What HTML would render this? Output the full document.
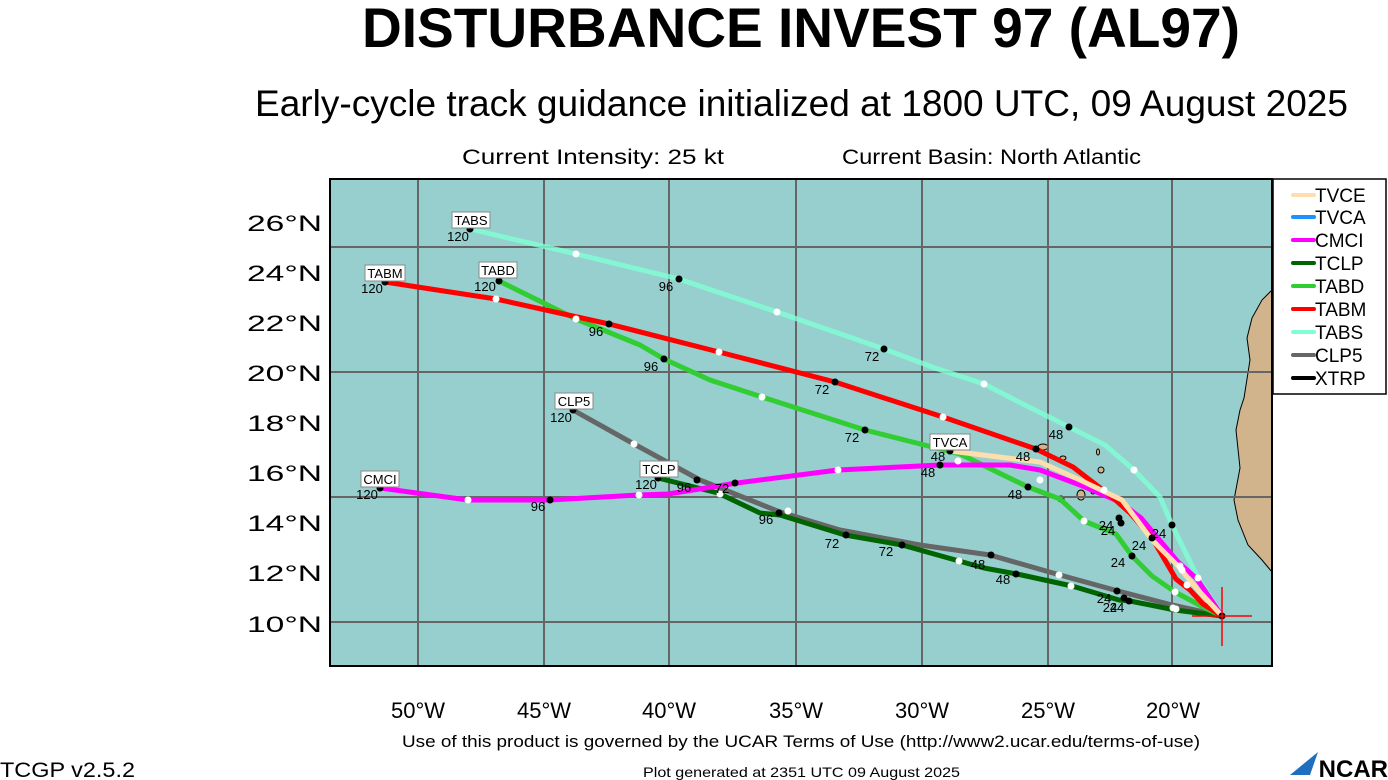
<!DOCTYPE html>
<html><head><meta charset="utf-8"><style>
html,body{margin:0;padding:0;background:#fff;width:1388px;height:780px;overflow:hidden}
svg text{font-family:"Liberation Sans",sans-serif}
</style></head><body>
<svg width="1388" height="780" viewBox="0 0 1388 780" xmlns="http://www.w3.org/2000/svg">
<text x="362" y="47" font-size="56" font-weight="bold" textLength="878" lengthAdjust="spacingAndGlyphs">DISTURBANCE INVEST 97 (AL97)</text>
<text x="255" y="116" font-size="37" textLength="1093" lengthAdjust="spacingAndGlyphs">Early-cycle track guidance initialized at 1800 UTC, 09 August 2025</text>
<text x="462" y="164" font-size="21" textLength="262" lengthAdjust="spacingAndGlyphs">Current Intensity: 25 kt</text>
<text x="842" y="164" font-size="21" textLength="299" lengthAdjust="spacingAndGlyphs">Current Basin: North Atlantic</text>
<rect x="330" y="179" width="942" height="487" fill="#97cfce"/>
<path d="M1272,290 L1262,300 1252,318 1247,338 1250,360 1244,398 1240,410 1236,430 1240,468 1234,500 1238,520 1248,545 1262,560 1272,572 Z" fill="#d2b48c" stroke="#000" stroke-width="1"/>
<g fill="#d2b48c" stroke="#000" stroke-width="1">
<ellipse cx="1043" cy="447" rx="5" ry="3"/><ellipse cx="1063" cy="458" rx="3" ry="2"/><ellipse cx="1101" cy="470" rx="3" ry="3"/><ellipse cx="1081" cy="495" rx="4" ry="5"/><ellipse cx="1093" cy="492" rx="2" ry="2"/><ellipse cx="1061" cy="499" rx="3" ry="3"/><ellipse cx="1098" cy="452" rx="1.5" ry="3"/>
</g>
<g stroke="#666" stroke-width="2">
<line x1="418" y1="179" x2="418" y2="666"/><line x1="544" y1="179" x2="544" y2="666"/><line x1="669" y1="179" x2="669" y2="666"/><line x1="796" y1="179" x2="796" y2="666"/><line x1="922" y1="179" x2="922" y2="666"/><line x1="1048" y1="179" x2="1048" y2="666"/><line x1="1172" y1="179" x2="1172" y2="666"/>
<line x1="330" y1="247" x2="1272" y2="247"/><line x1="330" y1="372" x2="1272" y2="372"/><line x1="330" y1="497" x2="1272" y2="497"/><line x1="330" y1="622" x2="1272" y2="622"/>
</g>
<g fill="none" stroke-width="5" stroke-linejoin="round">
<polyline stroke="#666" points="1222,616 1172,605 1118,591 1060,575 990,555 920,545 840,530 780,512 700,480 634,444 573,410"/>
<polyline stroke="#006400" points="1222,616 1175,610 1130,601 1119,600 1072,586 1017,574 984,568 902,545 845,535 780,515 760,513 718,493 658,478"/>
<polyline stroke="#32cd32" points="1222,616 1205,608 1175,592 1152,576 1132,556 1116,534 1084,521 1060,499 1028,487 960,454 865,430 762,397 710,380 664,359 640,345 576,319 499,281"/>
<polyline stroke="#7fffd4" stroke-opacity="0.8" points="1222,616 1198,578 1172,525 1160,497 1134,470 1105,445 1069,427 1025,405 984,384 935,368 884,349 777,312 679,279 576,254 470,229"/>
<polyline stroke="#ff00ff" points="1222,616 1197,579 1178,562 1141,518 1120,502 1080,485 1040,470 1010,465 940,465 838,470 737,483 668,494 639,495 550,500 468,500 380,488"/>
<polyline stroke="#ff0000" points="1222,616 1203,604 1190,590 1176,579 1152,538 1130,513 1112,497 1073,467 1036,449 943,417 835,382 719,352 609,324 496,299 385,282"/>
<polyline stroke="#ffdead" points="1222,616 1198,590 1178,566 1152,540 1122,500 1080,480 1040,462 950,451"/>
</g>
<g fill="#fff">
<circle cx="1198" cy="578" r="3.5"/><circle cx="1134" cy="470" r="3.5"/><circle cx="984" cy="384" r="3.5"/><circle cx="777" cy="312" r="3.5"/><circle cx="576" cy="254" r="3.5"/>
<circle cx="1104" cy="490" r="3.5"/><circle cx="943" cy="417" r="3.5"/><circle cx="719" cy="352" r="3.5"/><circle cx="496" cy="299" r="3.5"/><circle cx="1187" cy="585" r="3.5"/>
<circle cx="1175" cy="592" r="3.5"/><circle cx="1084" cy="521" r="3.5"/><circle cx="958" cy="461" r="3.5"/><circle cx="762" cy="397" r="3.5"/><circle cx="576" cy="319" r="3.5"/>
<circle cx="1180" cy="566" r="3.5"/><circle cx="1040" cy="480" r="3.5"/><circle cx="838" cy="470" r="3.5"/><circle cx="639" cy="495" r="3.5"/><circle cx="468" cy="500" r="3.5"/><circle cx="1182" cy="570" r="3.5"/>
<circle cx="1173" cy="608" r="3.5"/><circle cx="1071" cy="586" r="3.5"/><circle cx="959" cy="561" r="3.5"/><circle cx="720" cy="494" r="3.5"/><circle cx="1176" cy="609" r="3.5"/>
<circle cx="1059" cy="575" r="3.5"/><circle cx="634" cy="444" r="3.5"/><circle cx="788" cy="511" r="3.5"/>
</g>
<g fill="#000">
<circle cx="1222" cy="616" r="3.5"/>
<circle cx="1172" cy="525" r="3.5"/><circle cx="1069" cy="427" r="3.5"/><circle cx="884" cy="349" r="3.5"/><circle cx="679" cy="279" r="3.5"/><circle cx="470" cy="229" r="3.5"/>
<circle cx="1152" cy="538" r="3.5"/><circle cx="1036" cy="449" r="3.5"/><circle cx="835" cy="382" r="3.5"/><circle cx="609" cy="324" r="3.5"/><circle cx="385" cy="282" r="3.5"/>
<circle cx="1132" cy="556" r="3.5"/><circle cx="1028" cy="487" r="3.5"/><circle cx="865" cy="430" r="3.5"/><circle cx="664" cy="359" r="3.5"/><circle cx="499" cy="281" r="3.5"/>
<circle cx="1119" cy="518" r="3.5"/><circle cx="1121" cy="523" r="3.5"/><circle cx="940" cy="465" r="3.5"/><circle cx="950" cy="451" r="3.5"/><circle cx="735" cy="483" r="3.5"/><circle cx="550" cy="500" r="3.5"/><circle cx="380" cy="488" r="3.5"/>
<circle cx="1124" cy="598" r="3.5"/><circle cx="1129" cy="601" r="3.5"/><circle cx="1016" cy="574" r="3.5"/><circle cx="902" cy="545" r="3.5"/><circle cx="846" cy="535" r="3.5"/><circle cx="779" cy="513" r="3.5"/><circle cx="658" cy="478" r="3.5"/>
<circle cx="1117" cy="591" r="3.5"/><circle cx="991" cy="555" r="3.5"/><circle cx="697" cy="480" r="3.5"/><circle cx="573" cy="410" r="3.5"/>
</g>
<line x1="1192" y1="616" x2="1252" y2="616" stroke="#f00" stroke-width="1.5"/><line x1="1222" y1="587" x2="1222" y2="646" stroke="#f00" stroke-width="1.5"/>
<g font-size="13" text-anchor="middle">
<text x="458" y="241">120</text><text x="372" y="293">120</text><text x="485" y="291">120</text><text x="561" y="422">120</text><text x="367" y="499">120</text><text x="646" y="489">120</text>
<text x="666" y="291">96</text><text x="596" y="336">96</text><text x="651" y="371">96</text><text x="538" y="511">96</text><text x="684" y="492">96</text><text x="766" y="524">96</text>
<text x="872" y="361">72</text><text x="822" y="394">72</text><text x="852" y="442">72</text><text x="722" y="493">72</text><text x="832" y="548">72</text><text x="886" y="556">72</text>
<text x="1056" y="439">48</text><text x="1023" y="461">48</text><text x="938" y="461">48</text><text x="928" y="477">48</text><text x="1015" y="499">48</text><text x="978" y="569">48</text><text x="1003" y="584">48</text>
<text x="1159" y="538">24</text><text x="1106" y="530">24</text><text x="1108" y="535">24</text><text x="1139" y="550">24</text><text x="1118" y="567">24</text><text x="1104" y="603">24</text><text x="1110" y="612">24</text><text x="1117" y="612">24</text>
</g>
<g font-size="13" text-anchor="middle">
<rect x="452" y="212" width="38" height="16" fill="#fff" stroke="#888"/><text x="471" y="225">TABS</text>
<rect x="365" y="265" width="40" height="16" fill="#fff" stroke="#888"/><text x="385" y="278">TABM</text>
<rect x="479" y="262" width="38" height="16" fill="#fff" stroke="#888"/><text x="498" y="275">TABD</text>
<rect x="555" y="393" width="38" height="16" fill="#fff" stroke="#888"/><text x="574" y="406">CLP5</text>
<rect x="361" y="471" width="38" height="16" fill="#fff" stroke="#888"/><text x="380" y="484">CMCI</text>
<rect x="640" y="461" width="38" height="16" fill="#fff" stroke="#888"/><text x="659" y="474">TCLP</text>
<rect x="930" y="434" width="40" height="16" fill="#fff" stroke="#888"/><text x="950" y="447">TVCA</text>
</g>
<rect x="330" y="179" width="942" height="487" fill="none" stroke="#000" stroke-width="2"/>
<g font-size="22">
<text x="247" y="231" textLength="75" lengthAdjust="spacingAndGlyphs">26°N</text><text x="247" y="281" textLength="75" lengthAdjust="spacingAndGlyphs">24°N</text><text x="247" y="331" textLength="75" lengthAdjust="spacingAndGlyphs">22°N</text><text x="247" y="381" textLength="75" lengthAdjust="spacingAndGlyphs">20°N</text><text x="247" y="431" textLength="75" lengthAdjust="spacingAndGlyphs">18°N</text><text x="247" y="481" textLength="75" lengthAdjust="spacingAndGlyphs">16°N</text><text x="247" y="531" textLength="75" lengthAdjust="spacingAndGlyphs">14°N</text><text x="247" y="581" textLength="75" lengthAdjust="spacingAndGlyphs">12°N</text><text x="247" y="632" textLength="75" lengthAdjust="spacingAndGlyphs">10°N</text>
</g>
<g font-size="22" text-anchor="middle">
<text x="418" y="718">50°W</text><text x="544" y="718">45°W</text><text x="669" y="718">40°W</text><text x="796" y="718">35°W</text><text x="922" y="718">30°W</text><text x="1048" y="718">25°W</text><text x="1173" y="718">20°W</text>
</g>
<rect x="1273" y="179" width="113" height="215" fill="#fff" stroke="#000" stroke-width="1.5"/>
<g stroke-width="4" stroke-linecap="round">
<line x1="1293" y1="195" x2="1314" y2="195" stroke="#ffdead"/><line x1="1293" y1="217" x2="1314" y2="217" stroke="#1e90ff"/><line x1="1293" y1="240" x2="1314" y2="240" stroke="#ff00ff"/><line x1="1293" y1="263" x2="1314" y2="263" stroke="#006400"/><line x1="1293" y1="286" x2="1314" y2="286" stroke="#32cd32"/><line x1="1293" y1="309" x2="1314" y2="309" stroke="#ff0000"/><line x1="1293" y1="332" x2="1314" y2="332" stroke="#7fffd4"/><line x1="1293" y1="355" x2="1314" y2="355" stroke="#666"/><line x1="1293" y1="378" x2="1314" y2="378" stroke="#000"/>
</g>
<g font-size="19">
<text x="1315" y="202">TVCE</text><text x="1315" y="224">TVCA</text><text x="1315" y="247">CMCI</text><text x="1315" y="270">TCLP</text><text x="1315" y="293">TABD</text><text x="1315" y="316">TABM</text><text x="1315" y="339">TABS</text><text x="1315" y="362">CLP5</text><text x="1315" y="385">XTRP</text>
</g>
<text x="402" y="747" font-size="17" textLength="798" lengthAdjust="spacingAndGlyphs">Use of this product is governed by the UCAR Terms of Use (http://www2.ucar.edu/terms-of-use)</text>
<text x="0" y="777" font-size="21" textLength="135" lengthAdjust="spacingAndGlyphs">TCGP v2.5.2</text>
<text x="643" y="777" font-size="14" textLength="317" lengthAdjust="spacingAndGlyphs">Plot generated at 2351 UTC   09 August 2025</text>
<path d="M1290,775 L1318,752 L1310,775 Z" fill="#1e6fbf"/>
<text x="1388" y="777" font-size="24" font-weight="bold" text-anchor="end">NCAR</text>
</svg>
</body></html>
